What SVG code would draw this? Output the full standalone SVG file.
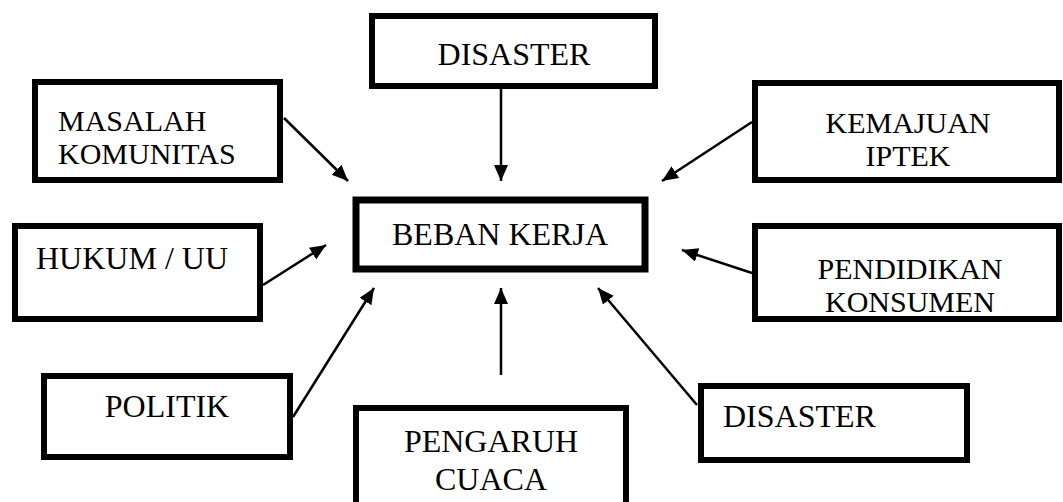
<svg xmlns="http://www.w3.org/2000/svg" width="1063" height="502" viewBox="0 0 1063 502">
<defs>
<marker id="ah" markerWidth="17" markerHeight="15" refX="16" refY="7" orient="auto" markerUnits="userSpaceOnUse">
<path d="M0,0 L16,7 L0,14 z" fill="#000"/>
</marker>
<style>
.box{fill:#fff;stroke:#000;stroke-width:6}
.t{font-family:"Liberation Serif","Times New Roman",serif;font-size:32px;fill:#000}
.s{font-size:30px}
.m{text-anchor:middle}
.c{stroke:#000;stroke-width:2.5;fill:none;marker-end:url(#ah)}
</style>
</defs>
<rect width="1063" height="502" fill="#fff"/>
<g id="connectors">
<line class="c" x1="501" y1="89" x2="501" y2="181"/>
<line class="c" x1="284" y1="118" x2="348" y2="181"/>
<line class="c" x1="752" y1="122" x2="662" y2="181"/>
<line class="c" x1="263" y1="285" x2="326" y2="245"/>
<line class="c" x1="752" y1="273" x2="682" y2="250"/>
<line class="c" x1="293" y1="417" x2="374" y2="288"/>
<line class="c" x1="501" y1="375" x2="501" y2="288"/>
<line class="c" x1="697" y1="405" x2="598" y2="288"/>
</g>
<g id="disaster-top">
<rect class="box" x="372" y="16" width="283" height="70"/>
<text class="t m" x="514" y="65">DISASTER</text>
</g>
<g id="masalah">
<rect class="box" x="35" y="82" width="245" height="98"/>
<text class="t s" x="58" y="131">MASALAH</text>
<text class="t s" x="58" y="164">KOMUNITAS</text>
</g>
<g id="kemajuan">
<rect class="box" x="755" y="83" width="304" height="97"/>
<text class="t s m" x="908" y="133">KEMAJUAN</text>
<text class="t s m" x="908" y="166">IPTEK</text>
</g>
<g id="beban">
<rect class="box" x="356" y="200" width="289" height="69" style="stroke-width:7"/>
<text class="t m" x="500" y="245">BEBAN KERJA</text>
</g>
<g id="hukum">
<rect class="box" x="15" y="226" width="245" height="93"/>
<text class="t" x="36" y="269">HUKUM / UU</text>
</g>
<g id="pendidikan">
<rect class="box" x="755" y="226" width="304" height="93"/>
<text class="t s m" x="910" y="279">PENDIDIKAN</text>
<text class="t s m" x="910" y="312">KONSUMEN</text>
</g>
<g id="politik">
<rect class="box" x="44" y="376" width="246" height="81"/>
<text class="t m" x="167" y="417">POLITIK</text>
</g>
<g id="pengaruh">
<rect class="box" x="356" y="408" width="270" height="110"/>
<text class="t m" x="491" y="452">PENGARUH</text>
<text class="t m" x="491" y="490">CUACA</text>
</g>
<g id="disaster-bottom">
<rect class="box" x="701" y="386" width="266" height="74"/>
<text class="t" x="723" y="427">DISASTER</text>
</g>
</svg>
